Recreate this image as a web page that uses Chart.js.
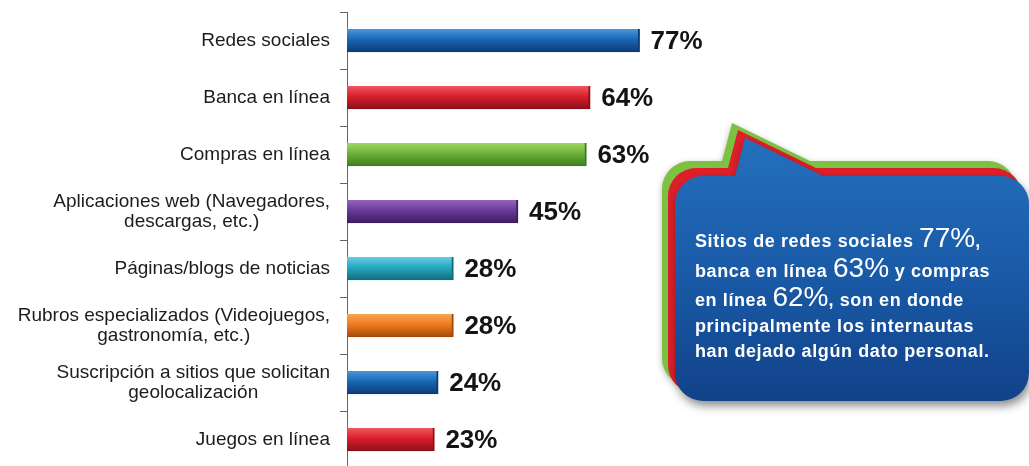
<!DOCTYPE html>
<html>
<head>
<meta charset="utf-8">
<script src="https://cdn.jsdelivr.net/npm/chart.js@4.4.1/dist/chart.umd.min.js"></script>
<style>
  html, body { margin: 0; padding: 0; background: #fff; overflow: hidden; }
  #wrap { width: 1029px; height: 466px; overflow: hidden; position: relative; }
  #box { width: 1029px; height: 468px; position: relative; }
</style>
</head>
<body>
<div id="wrap"><div id="box"><canvas id="myChart"></canvas></div></div>
<script>
// categorías (multilínea = array)
const categorias = [
  ["Redes sociales"],
  ["Banca en línea"],
  ["Compras en línea"],
  ["Aplicaciones web (Navegadores,", "descargas, etc.)"],
  ["Páginas/blogs de noticias"],
  ["Rubros especializados (Videojuegos,", "gastronomía, etc.)"],
  ["Suscripción a sitios que solicitan", "geolocalización"],
  ["Juegos en línea"]
];
const valores = [77, 64, 63, 45, 28, 28, 24, 23];

// colores de las barras: [claro, medio, oscuro]
const colores = [
  ["#4a9ae0", "#1a67b4", "#0c3a72"],
  ["#f25a62", "#d8202c", "#8a0f18"],
  ["#a4d862", "#6cb33a", "#3d7a1a"],
  ["#9466c2", "#6a3a98", "#3a1c5e"],
  ["#6ad0e2", "#27a8c0", "#106a7c"],
  ["#fba65a", "#ef7a1f", "#a04808"],
  ["#4a9ae0", "#1a67b4", "#0c3a72"],
  ["#f25a62", "#d8202c", "#8a0f18"]
];

// texto del globo
const globo = [
  [["Sitios de redes sociales ", 0], ["77%", 1], [",", 0]],
  [["banca en línea ", 0], ["63%", 1], [" y compras", 0]],
  [["en línea ", 0], ["62%", 1], [", son en donde", 0]],
  [["principalmente los internautas", 0]],
  [["han dejado algún dato personal.", 0]]
];

function barGradient(context) {
  const chart = context.chart;
  const c = colores[context.dataIndex];
  if (!chart.chartArea) return c[1];
  const y = chart.scales.y.getPixelForValue(context.dataIndex);
  const g = chart.ctx.createLinearGradient(0, y - 12, 0, y + 12);
  g.addColorStop(0, c[0]);
  g.addColorStop(0.45, c[1]);
  g.addColorStop(1, c[2]);
  return g;
}

// etiquetas del eje y (centradas por bloque)
const yLabels = {
  id: "yLabels",
  afterDraw(chart) {
    const ctx = chart.ctx;
    const sy = chart.scales.y;
    ctx.save();
    ctx.font = "19px 'Liberation Sans', Arial, sans-serif";
    ctx.fillStyle = "#1c1c1c";
    ctx.textAlign = "center";
    ctx.textBaseline = "middle";
    categorias.forEach((lines, i) => {
      const y = sy.getPixelForValue(i);
      const w = Math.max(...lines.map(l => ctx.measureText(l).width));
      const cx = 330 - w / 2;
      const lh = 20;
      lines.forEach((l, k) => {
        ctx.fillText(l, cx, y + (k - (lines.length - 1) / 2) * lh);
      });
    });
    ctx.restore();
  }
};

// porcentajes al final de la barra
const valueLabels = {
  id: "valueLabels",
  afterDatasetsDraw(chart) {
    const ctx = chart.ctx;
    const meta = chart.getDatasetMeta(0);
    ctx.save();
    ctx.font = "bold 26px 'Liberation Sans', Arial, sans-serif";
    ctx.fillStyle = "#141414";
    ctx.textBaseline = "middle";
    meta.data.forEach((bar, i) => {
      ctx.fillText(valores[i] + "%", bar.x + 11, bar.y + 1);
    });
    ctx.restore();
  }
};

function forma(ctx, ox, oy) {
  const L = 675 + ox, T = 176 + oy, R = 1029 + ox, B = 401 + oy, r = 28;
  ctx.beginPath();
  ctx.moveTo(L + r, T);
  ctx.lineTo(735 + ox, T);
  ctx.lineTo(745 + ox, 138 + oy);
  ctx.lineTo(823 + ox, T);
  ctx.arcTo(R, T, R, B, r);
  ctx.arcTo(R, B, L, B, r);
  ctx.arcTo(L, B, L, T, r);
  ctx.arcTo(L, T, R, T, r);
  ctx.closePath();
}

// globo de texto
const callout = {
  id: "callout",
  afterDraw(chart) {
    const ctx = chart.ctx;
    ctx.save();
    ctx.shadowColor = "rgba(0,0,0,0.3)";
    ctx.shadowBlur = 6;
    ctx.shadowOffsetY = 2;
    forma(ctx, -13, -15);
    ctx.fillStyle = "#7dc142";
    ctx.fill();
    ctx.shadowColor = "transparent";
    forma(ctx, -7, -8);
    ctx.fillStyle = "#dd1f2b";
    ctx.fill();
    ctx.shadowColor = "rgba(0,0,0,0.45)";
    ctx.shadowBlur = 10;
    ctx.shadowOffsetX = 2;
    ctx.shadowOffsetY = 5;
    forma(ctx, 0, 0);
    const g = ctx.createLinearGradient(0, 138, 0, 401);
    g.addColorStop(0, "#2470bd");
    g.addColorStop(0.5, "#1a5ba8");
    g.addColorStop(1, "#114289");
    ctx.fillStyle = g;
    ctx.fill();
    ctx.restore();

    ctx.save();
    ctx.fillStyle = "#ffffff";
    ctx.textBaseline = "alphabetic";
    const baselines = [247, 277, 306, 332, 357];
    const fonts = ["bold 18px 'Liberation Sans', Arial, sans-serif",
                   "28px 'Liberation Sans', Arial, sans-serif"];
    globo.forEach((parts, i) => {
      let x = 695;
      parts.forEach(([t, big]) => {
        ctx.font = fonts[big];
        ctx.letterSpacing = big ? "0px" : "0.6px";
        ctx.fillText(t, x, baselines[i]);
        x += ctx.measureText(t).width;
      });
    });
    ctx.restore();
  }
};

const ctx = document.getElementById("myChart").getContext("2d");
const myChart = new Chart(ctx, {
  type: "bar",
  data: {
    labels: categorias,
    datasets: [{
      data: valores,
      backgroundColor: barGradient,
      borderColor: colores.map(c => c[2]),
      borderWidth: { top: 0, bottom: 1, left: 0, right: 2 },
      borderSkipped: false,
      barThickness: 23
    }]
  },
  options: {
    indexAxis: "y",
    responsive: true,
    maintainAspectRatio: false,
    animation: false,
    layout: { padding: { top: 12, bottom: 0, left: 0, right: 302 } },
    plugins: { legend: { display: false }, tooltip: { enabled: false } },
    scales: {
      x: { display: false, min: 0, max: 100 },
      y: {
        afterFit(scale) { scale.width = 347; },
        ticks: { display: false },
        grid: { drawOnChartArea: false, tickLength: 7, color: "#666", offset: true },
        border: { color: "#666", width: 1 }
      }
    }
  },
  plugins: [yLabels, valueLabels, callout]
});
</script>
</body>
</html>
